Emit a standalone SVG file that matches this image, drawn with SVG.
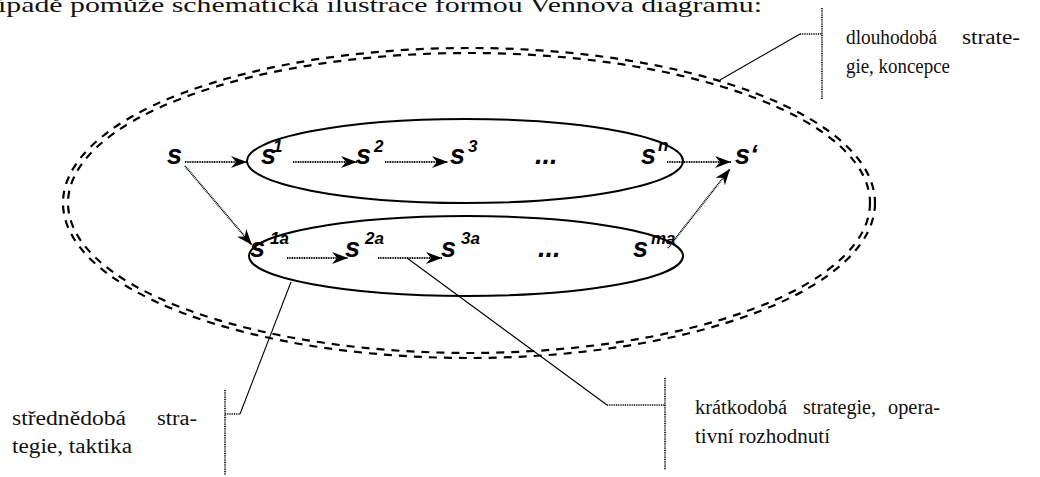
<svg xmlns="http://www.w3.org/2000/svg" width="1040" height="477" viewBox="0 0 1040 477">
<style>
.serif{font-family:"Liberation Serif","Times New Roman",serif;fill:#111;font-size:20px;}
.lab{font-family:"Liberation Sans",Arial,sans-serif;font-weight:bold;font-style:italic;fill:#000;}
.big{font-size:27px;}
.sup{font-size:17px;}
.dash{fill:none;stroke:#000;stroke-width:2.2;stroke-dasharray:8 7;}
.ell{fill:none;stroke:#000;stroke-width:2;}
.arr{fill:none;stroke:#000;stroke-width:1.8;stroke-dasharray:1 0.7;marker-end:url(#ah);}
.call{fill:none;stroke:#000;stroke-width:1.1;}
.bar{fill:none;stroke:#000;stroke-width:1.6;stroke-dasharray:1 0.8;}
</style>
<defs>
<marker id="ah" markerUnits="userSpaceOnUse" markerWidth="20" markerHeight="14" refX="16" refY="6" orient="auto">
<path d="M0,0 L16,6 L0,12 L5,6 Z" fill="#000"/>
</marker>
</defs>
<text class="serif" x="-2" y="12" style="font-size:22px" textLength="764" lengthAdjust="spacingAndGlyphs">ípadě pomůže schematická ilustrace formou Vennova diagramu:</text>
<g id="outer">
<ellipse class="dash" cx="469" cy="203" rx="406" ry="155"/>
<ellipse class="dash" cx="469" cy="203" rx="401" ry="150"/>
</g>
<g id="upper">
<ellipse class="ell" cx="465" cy="161" rx="218" ry="42"/>
</g>
<g id="lower">
<ellipse class="ell" cx="466" cy="256" rx="217" ry="40"/>
</g>
<g id="n-s"><text class="lab big" x="167" y="164">s</text></g>
<g id="n-s1"><text class="lab big" x="261" y="164">s</text><text class="lab sup" x="273" y="152">1</text></g>
<g id="n-s2"><text class="lab big" x="356" y="164">s</text><text class="lab sup" x="374" y="152">2</text></g>
<g id="n-s3"><text class="lab big" x="450" y="164">s</text><text class="lab sup" x="468" y="152">3</text></g>
<g id="n-dots1"><text class="lab big" x="535" y="164">...</text></g>
<g id="n-sn"><text class="lab big" x="641" y="164">s</text><text class="lab sup" x="658" y="151">n</text></g>
<g id="n-send"><text class="lab big" x="735" y="164">s‘</text></g>
<g id="n-s1a"><text class="lab big" x="250" y="257">s</text><text class="lab sup" x="270" y="244">1a</text></g>
<g id="n-s2a"><text class="lab big" x="345" y="257">s</text><text class="lab sup" x="365" y="244">2a</text></g>
<g id="n-s3a"><text class="lab big" x="441" y="257">s</text><text class="lab sup" x="461" y="244">3a</text></g>
<g id="n-dots2"><text class="lab big" x="538" y="257">...</text></g>
<g id="n-sma"><text class="lab big" x="633" y="257">s</text><text class="lab sup" x="651" y="244">ma</text></g>
<g id="connectors">
<line class="arr" x1="185" y1="162" x2="247" y2="162"/>
<line class="arr" x1="293" y1="162" x2="357" y2="162"/>
<line class="arr" x1="385" y1="162" x2="448" y2="162"/>
<line class="arr" x1="667" y1="162" x2="731" y2="162"/>
<line class="arr" x1="185" y1="166" x2="252" y2="245"/>
<line class="arr" x1="668" y1="248" x2="730" y2="169"/>
<line class="arr" x1="287" y1="258" x2="348" y2="258"/>
<line class="arr" x1="378" y1="258" x2="442" y2="258"/>
</g>
<g id="callout-long">
<polyline class="call" points="720,80 800,34"/>
<line class="bar" x1="800" y1="34" x2="822" y2="34"/>
<line class="bar" x1="822" y1="8" x2="822" y2="99"/>
<text class="serif" x="846" y="44" textLength="91" lengthAdjust="spacingAndGlyphs">dlouhodobá</text>
<text class="serif" x="962" y="44" textLength="58" lengthAdjust="spacingAndGlyphs">strate-</text>
<text class="serif" x="846" y="73" textLength="104" lengthAdjust="spacingAndGlyphs">gie, koncepce</text>
</g>
<g id="callout-mid">
<polyline class="call" points="291,282 240,414"/>
<line class="bar" x1="225" y1="414" x2="240" y2="414"/>
<line class="bar" x1="225" y1="390" x2="225" y2="475"/>
<text class="serif" x="12" y="425" textLength="114" lengthAdjust="spacingAndGlyphs">střednědobá</text>
<text class="serif" x="157" y="425" textLength="40" lengthAdjust="spacingAndGlyphs">stra-</text>
<text class="serif" x="12" y="453" textLength="120" lengthAdjust="spacingAndGlyphs">tegie, taktika</text>
</g>
<g id="callout-short">
<polyline class="call" points="407,258 607,405"/>
<line class="bar" x1="607" y1="405" x2="665" y2="405"/>
<line class="bar" x1="665" y1="378" x2="665" y2="470"/>
<text class="serif" x="695" y="414" textLength="92" lengthAdjust="spacingAndGlyphs">krátkodobá</text>
<text class="serif" x="803" y="414" textLength="73" lengthAdjust="spacingAndGlyphs">strategie,</text>
<text class="serif" x="888" y="414" textLength="52" lengthAdjust="spacingAndGlyphs">opera-</text>
<text class="serif" x="695" y="443" textLength="135" lengthAdjust="spacingAndGlyphs">tivní rozhodnutí</text>
</g>
</svg>
